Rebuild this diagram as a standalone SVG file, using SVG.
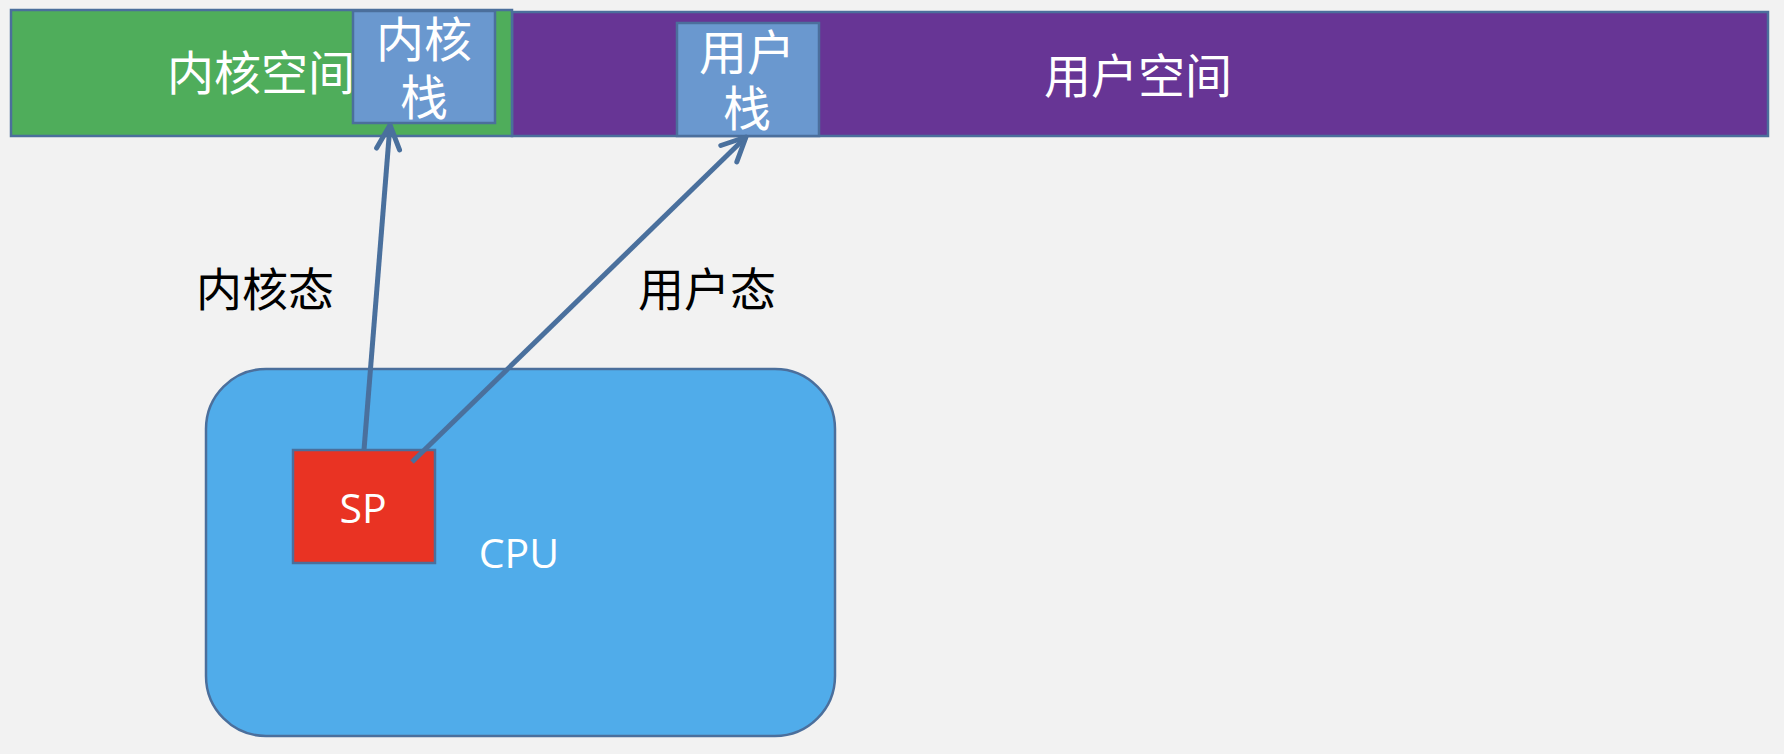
<svg xmlns="http://www.w3.org/2000/svg" width="1784" height="754" viewBox="0 0 1784 754">
<style>
.box{stroke:#4b6f9c;stroke-width:2.5}
.cjk{font-family:"Noto Sans CJK SC","Noto Sans",sans-serif;text-anchor:middle}
.lat{font-family:"Open Sans","Liberation Sans",sans-serif;text-anchor:middle;fill:#ffffff}
.w{fill:#ffffff}
.conn{stroke:#4a709d;stroke-width:5;fill:none}
</style>
<defs>
<marker id="arr" markerUnits="userSpaceOnUse" viewBox="-30 -16 34 32" refX="0" refY="0" markerWidth="34" markerHeight="32" orient="auto">
<path d="M-24,-11.5 L0,0 L-24,11.5" fill="none" stroke="#4a709d" stroke-width="5" stroke-linecap="round" stroke-linejoin="round"/>
</marker>
</defs>
<rect x="0" y="0" width="1784" height="754" fill="#f2f2f2"/>
<g id="user-space">
<rect class="box" x="512" y="12" width="1256" height="124" fill="#673595"/>
<text class="cjk w" x="1138" y="93" font-size="47">用户空间</text>
</g>
<g id="kernel-space">
<rect class="box" x="11" y="10" width="501" height="126" fill="#4fad5b"/>
<text class="cjk w" x="261" y="90" font-size="47">内核空间</text>
</g>
<g id="kernel-stack">
<rect class="box" x="353" y="11" width="142" height="112" fill="#6a98cf"/>
<text class="cjk w" x="424" y="57" font-size="48">内核</text>
<text class="cjk w" x="424" y="115" font-size="48">栈</text>
</g>
<g id="user-stack">
<rect class="box" x="677" y="23" width="142" height="113" fill="#6a98cf"/>
<text class="cjk w" x="747" y="70" font-size="48">用户</text>
<text class="cjk w" x="747" y="126" font-size="48">栈</text>
</g>
<g id="cpu">
<rect class="box" x="206" y="369" width="629" height="367" rx="60" ry="60" fill="#50acea"/>
<text class="lat" x="519" y="568" font-size="41">CPU</text>
</g>
<g id="sp">
<rect class="box" x="293" y="450" width="142" height="113" fill="#e93323"/>
<text class="lat" x="363" y="523" font-size="41">SP</text>
</g>
<g id="labels">
<text class="cjk" x="265" y="306" font-size="46" fill="#000000">内核态</text>
<text class="cjk" x="707" y="306" font-size="46" fill="#000000">用户态</text>
</g>
<g id="connectors">
<line class="conn" x1="364" y1="450" x2="390" y2="125" marker-end="url(#arr)"/>
<line class="conn" x1="412" y1="462" x2="746" y2="137" marker-end="url(#arr)"/>
</g>
</svg>
